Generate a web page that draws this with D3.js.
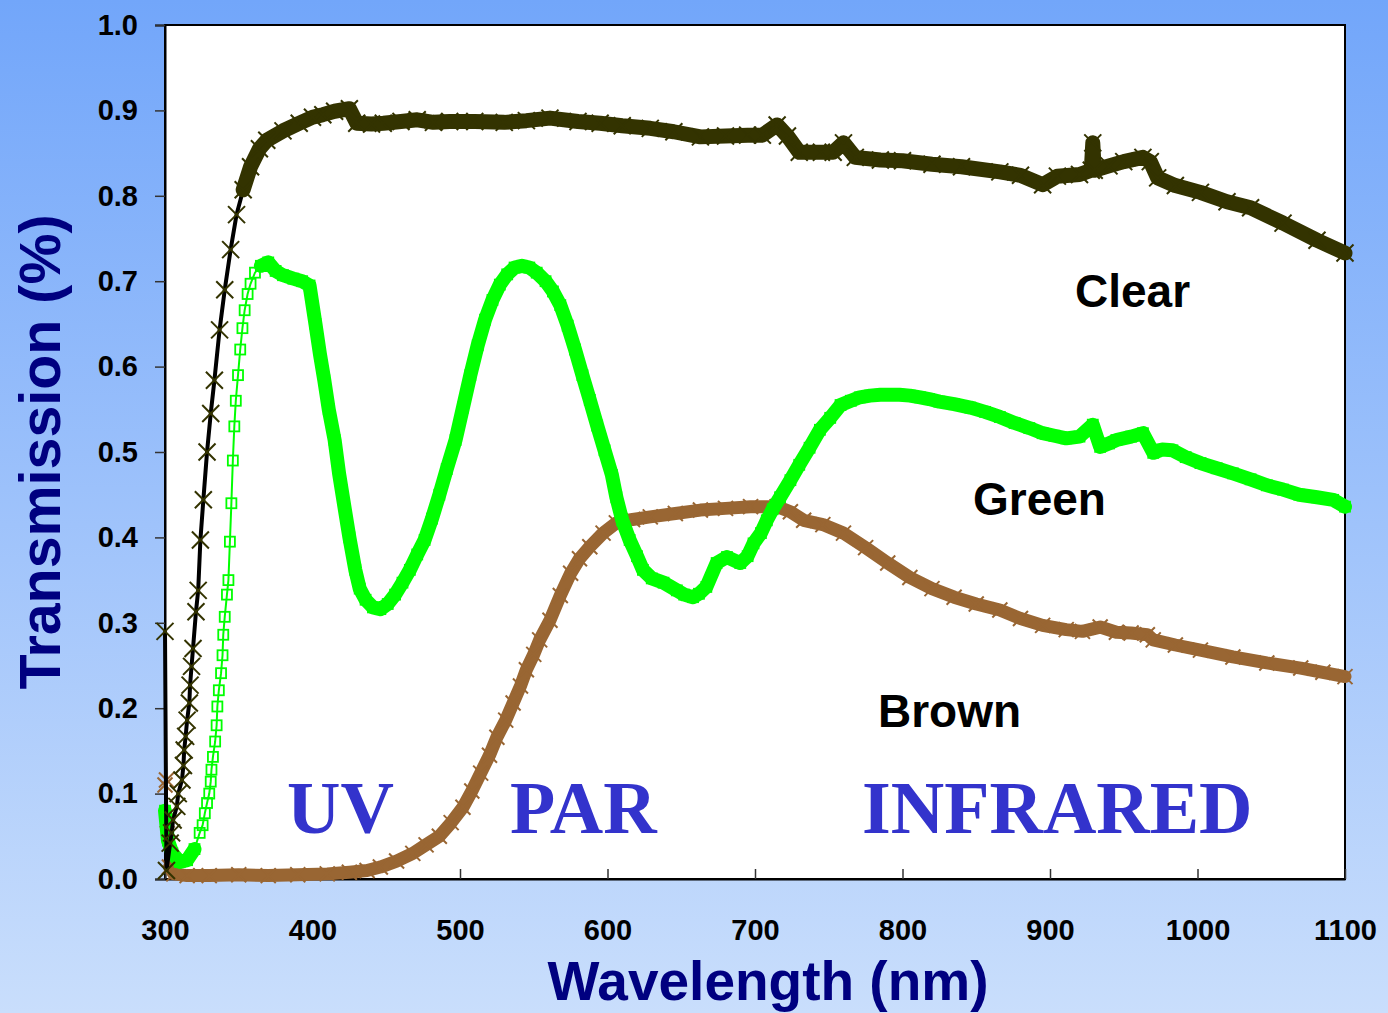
<!DOCTYPE html>
<html>
<head>
  <script src="https://d3js.org/d3.v7.min.js"></script>
  <style>
    body { margin: 0; }
    svg { display: block; }
  </style>
</head>
<body>
<svg id="mainSvg" width="1388" height="1013"></svg>

<script>
    // wavelength (nm) and transmission
    var clearNm = [300, 301, 303.5, 304.5, 305.5, 308, 309, 311.5, 312.5, 313, 314, 315, 316.5, 317, 318, 319, 321, 322.5,
        324, 326, 328.5, 331, 333.5, 337, 340.5, 344.5, 348.5, 353, 358, 364, 369, 380, 391, 400, 407, 415, 425, 430,
        440, 448, 460, 471, 482, 493, 510, 530, 545, 561, 580, 595, 610, 629, 645, 663, 680, 695, 705, 715, 722, 730,
        745, 753, 760, 768, 785, 800, 820, 840, 866, 880, 895, 905, 920, 928, 929, 930, 940, 950, 963, 968, 973, 985,
        1002, 1020, 1036, 1058, 1081, 1100];
    var clearT = [0.290, 0.010, 0.042, 0.054, 0.069, 0.085, 0.100, 0.116, 0.133, 0.151, 0.167, 0.186, 0.206, 0.227, 0.249, 0.270, 0.313, 0.338,
        0.397, 0.444, 0.500, 0.545, 0.584, 0.643, 0.690, 0.737, 0.778, 0.807, 0.834, 0.855, 0.865, 0.876, 0.885, 0.892, 0.895, 0.899, 0.902, 0.885,
        0.884, 0.885, 0.887, 0.889, 0.886, 0.887, 0.887, 0.886, 0.888, 0.891, 0.887, 0.885, 0.882, 0.879, 0.875, 0.869, 0.870, 0.871, 0.871, 0.883, 0.870, 0.851,
        0.851, 0.851, 0.862, 0.845, 0.842, 0.841, 0.837, 0.834, 0.828, 0.824, 0.813, 0.823, 0.825, 0.830, 0.862, 0.830, 0.835, 0.840, 0.845, 0.840, 0.821, 0.812,
        0.804, 0.793, 0.786, 0.768, 0.748, 0.733];

    var greenNm = [300, 302, 305, 310, 315, 320, 323.5, 325.5, 327, 328.5, 330, 331, 331.5, 332.5, 334, 335, 335.5, 336.5, 338, 339,
        339.5, 340.5, 342, 343, 344, 345, 346, 347, 348, 349.5, 351, 352.5, 354, 356, 358, 361, 365, 370, 375, 380, 387, 393,
        398, 402, 405, 408, 411, 415, 418, 422, 425, 429, 432, 436, 441, 446, 451, 456, 461, 466, 471, 476, 481, 486, 491,
        497, 502, 507, 512, 517, 522, 527, 532, 537, 542, 547, 552, 558, 563, 568, 573, 578, 583, 588, 593, 598, 603, 606,
        610, 615, 620, 624, 630, 638, 647, 652, 658, 662, 667, 674, 681, 690, 695, 699, 704, 708, 712, 717, 724, 730, 737,
        744, 751, 758, 765, 771, 778, 785, 792, 798, 805, 812, 818, 825, 835, 846, 856, 866, 876, 886, 895, 903, 911, 920,
        929, 934, 940, 945, 955, 963, 970, 976, 983, 992, 1002, 1013, 1024, 1036, 1047, 1058, 1069, 1081, 1092, 1100];
    var greenT = [0.080, 0.045, 0.030, 0.020, 0.022, 0.035, 0.054, 0.063, 0.077, 0.089, 0.100, 0.114, 0.128, 0.143, 0.161, 0.180, 0.202, 0.221, 0.241, 0.262,
        0.286, 0.307, 0.333, 0.350, 0.395, 0.440, 0.490, 0.530, 0.560, 0.590, 0.620, 0.645, 0.666, 0.685, 0.697, 0.710, 0.718, 0.722, 0.712, 0.707, 0.703, 0.700,
        0.695, 0.650, 0.615, 0.584, 0.550, 0.514, 0.475, 0.432, 0.400, 0.362, 0.340, 0.327, 0.318, 0.316, 0.322, 0.333, 0.347, 0.362, 0.380, 0.397, 0.422, 0.450, 0.480,
        0.514, 0.552, 0.590, 0.625, 0.655, 0.678, 0.696, 0.708, 0.716, 0.718, 0.716, 0.710, 0.700, 0.688, 0.672, 0.648, 0.620, 0.590, 0.561, 0.531, 0.502, 0.473, 0.447,
        0.420, 0.397, 0.378, 0.362, 0.352, 0.347, 0.338, 0.333, 0.330, 0.334, 0.342, 0.370, 0.377, 0.370, 0.378, 0.393, 0.405, 0.420, 0.433, 0.447, 0.467, 0.485, 0.505,
        0.526, 0.540, 0.555, 0.560, 0.564, 0.566, 0.567, 0.567, 0.567, 0.566, 0.564, 0.562, 0.559, 0.556, 0.552, 0.547, 0.541, 0.534, 0.528, 0.522, 0.519, 0.516, 0.518,
        0.532, 0.506, 0.510, 0.514, 0.518, 0.522, 0.499, 0.503, 0.502, 0.494, 0.487, 0.481, 0.475, 0.468, 0.461, 0.456, 0.450, 0.447, 0.444, 0.436];

    var brownNm = [300, 301, 301.5, 303, 306, 315, 330, 350, 370, 390, 410, 425, 437, 446, 457, 468, 477, 486, 494, 502, 508,
        514, 520, 525, 531, 536, 541, 545, 550, 554, 561, 568, 575, 581, 588, 597, 606, 617, 629, 646, 663, 680, 697, 715,
        724, 733, 746, 760, 775, 790, 805, 820, 835, 850, 866, 880, 895, 911, 922, 934, 945, 955, 966, 970, 985, 1002, 1024,
        1047, 1070, 1085, 1100];
    var brownT = [0.110, 0.116, 0.069, 0.014, 0.006, 0.004, 0.004, 0.005, 0.004, 0.005, 0.006, 0.008, 0.010, 0.014, 0.021, 0.030, 0.040, 0.050, 0.066, 0.084, 0.103,
        0.124, 0.145, 0.166, 0.186, 0.206, 0.226, 0.245, 0.263, 0.280, 0.303, 0.332, 0.358, 0.375, 0.389, 0.405, 0.417, 0.421, 0.424, 0.428, 0.432, 0.434, 0.436, 0.436,
        0.430, 0.420, 0.415, 0.405, 0.388, 0.370, 0.353, 0.340, 0.330, 0.322, 0.315, 0.305, 0.297, 0.292, 0.290, 0.295, 0.289, 0.288, 0.286, 0.280, 0.274, 0.268, 0.260,
        0.253, 0.247, 0.242, 0.237];

    var yTicks = [0, 0.1, 0.2, 0.3, 0.4, 0.5, 0.6, 0.7, 0.8, 0.9, 1.0];
    var xTicks = [300, 400, 500, 600, 700, 800, 900, 1000, 1100];

    var svg = d3.select("#mainSvg");
    var sans = "'Liberation Sans', Arial, Helvetica, sans-serif";
    var serif = "'Liberation Serif', 'Times New Roman', serif";

    // Background gradient
    var grad = svg.append("defs").append("linearGradient")
        .attr("id", "bg").attr("x1", 0).attr("y1", 0).attr("x2", 0).attr("y2", 1);
    grad.append("stop").attr("offset", "0%").attr("stop-color", "#72a6fa");
    grad.append("stop").attr("offset", "100%").attr("stop-color", "#c9defc");
    svg.append("rect").attr("width", 1388).attr("height", 1013).attr("fill", "url(#bg)");

    var x = d3.scaleLinear().domain([300, 1100]).range([165, 1345]);
    var y = d3.scaleLinear().domain([0, 1]).range([879, 25]);

    // Plot area
    svg.append("rect")
        .attr("x", x(300)).attr("y", y(1))
        .attr("width", x(1100) - x(300)).attr("height", y(0) - y(1))
        .attr("fill", "white").attr("stroke", "black").attr("stroke-width", 2);

    // Axes
    var yAxis = svg.append("g")
        .attr("transform", "translate(" + x(300) + ",0)")
        .call(d3.axisLeft(y).tickValues(yTicks).tickFormat(d3.format(".1f")).tickSize(10).tickPadding(17));
    var xAxis = svg.append("g")
        .attr("transform", "translate(0," + y(0) + ")")
        .call(d3.axisBottom(x).tickValues(xTicks).tickFormat(d3.format("d")).tickSizeInner(-10).tickSizeOuter(0).tickPadding(40));

    [yAxis, xAxis].forEach(function(g) {
        g.select(".domain").attr("stroke", "black").attr("stroke-width", 2);
        g.selectAll(".tick line").attr("stroke", "#333").attr("stroke-width", 1.5);
        g.selectAll(".tick text")
            .attr("fill", "black")
            .style("font-family", sans).style("font-weight", "bold").style("font-size", "29px");
    });

    function toPoints(nm, t) {
        return nm.map(function(w, i) { return { w: w, t: t[i] }; });
    }
    var clear = toPoints(clearNm, clearT);
    var green = toPoints(greenNm, greenT);
    var brown = toPoints(brownNm, brownT);

    var line = d3.line().x(d => x(d.w)).y(d => y(d.t));

    // thick band where the original markers overlap into a solid ribbon
    function band(data, color, width, keep) {
        svg.append("path")
            .datum(data)
            .attr("d", d3.line().defined(keep).x(d => x(d.w)).y(d => y(d.t)))
            .attr("fill", "none")
            .attr("stroke", color)
            .attr("stroke-width", width)
            .attr("stroke-linejoin", "round")
            .attr("stroke-linecap", "round");
    }

    function thin(data, color, width) {
        svg.append("path")
            .datum(data)
            .attr("d", line)
            .attr("fill", "none")
            .attr("stroke", color)
            .attr("stroke-width", width);
    }

    function crosses(data, color, r) {
        svg.append("g").selectAll("path")
            .data(data)
            .enter()
            .append("path")
            .attr("d", "M" + -r + "," + -r + "L" + r + "," + r + "M" + -r + "," + r + "L" + r + "," + -r)
            .attr("transform", d => "translate(" + x(d.w) + "," + y(d.t) + ")")
            .attr("fill", "none")
            .attr("stroke", color)
            .attr("stroke-width", 2);
    }

    // Brown
    thin(brown, "#996633", 2);
    band(brown, "#996633", 13, d => d.w >= 303);
    crosses(brown, "#996633", 7.5);

    // Green
    thin(green, "#00ff00", 2);
    band(green, "#00ff00", 14, d => d.w <= 322 || d.w >= 362);
    svg.append("g").selectAll("rect")
        .data(green)
        .enter()
        .append("rect")
        .attr("x", d => x(d.w) - 5)
        .attr("y", d => y(d.t) - 5)
        .attr("width", 10)
        .attr("height", 10)
        .attr("fill", "none")
        .attr("stroke", "#00ff00")
        .attr("stroke-width", 1.8);

    // Clear
    thin(clear, "black", 4);
    band(clear, "#333300", 15, d => d.w >= 350);
    crosses(clear, "#333300", 8.5);

    // Series labels
    var seriesLabels = [
        { text: "Clear", x: 1075, y: 307 },
        { text: "Green", x: 973, y: 515 },
        { text: "Brown", x: 878, y: 727 }
    ];
    svg.selectAll(".seriesLabel")
        .data(seriesLabels)
        .enter()
        .append("text")
        .attr("x", d => d.x).attr("y", d => d.y)
        .style("font-family", sans).style("font-weight", "bold").style("font-size", "46px")
        .attr("fill", "black")
        .text(d => d.text);

    // Band labels
    var bandLabels = [
        { text: "UV", x: 287 },
        { text: "PAR", x: 510 },
        { text: "INFRARED", x: 862 }
    ];
    svg.selectAll(".bandLabel")
        .data(bandLabels)
        .enter()
        .append("text")
        .attr("x", d => d.x).attr("y", 833)
        .style("font-family", serif).style("font-weight", "bold").style("font-size", "74px")
        .attr("fill", "#3333cc")
        .text(d => d.text);

    // Axis titles
    svg.append("text")
        .attr("transform", "translate(60,452) rotate(-90)")
        .attr("text-anchor", "middle")
        .attr("textLength", 475).attr("lengthAdjust", "spacingAndGlyphs")
        .style("font-family", sans).style("font-weight", "bold").style("font-size", "58px")
        .attr("fill", "#000080")
        .text("Transmission (%)");

    svg.append("text")
        .attr("x", 768).attr("y", 1000)
        .attr("text-anchor", "middle")
        .style("font-family", sans).style("font-weight", "bold").style("font-size", "55px")
        .attr("fill", "#000080")
        .text("Wavelength (nm)");
</script>
</body>
</html>
